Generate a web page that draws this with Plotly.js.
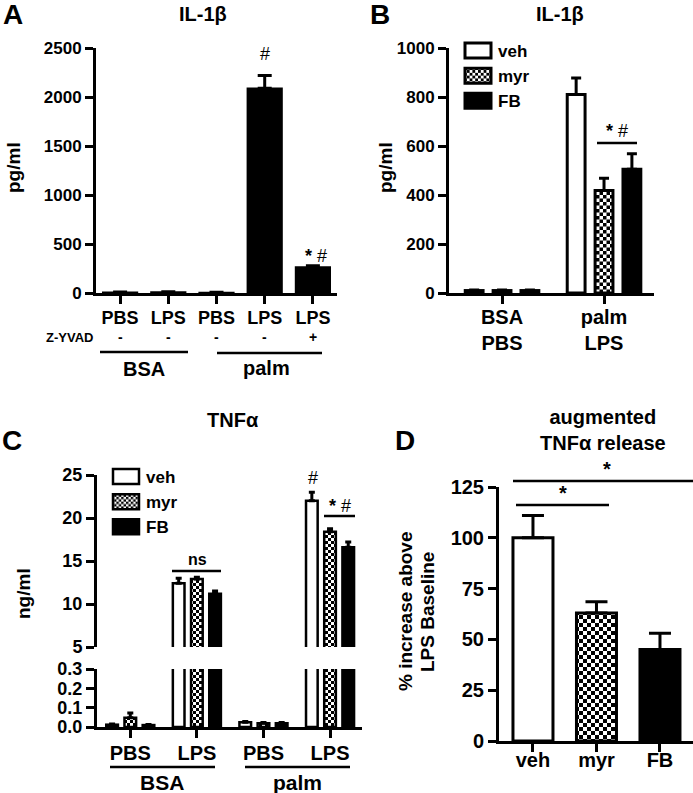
<!DOCTYPE html>
<html><head><meta charset="utf-8">
<script src="https://cdn.plot.ly/plotly-3.0.1.min.js"></script>
<style>html,body{margin:0;padding:0;background:#fff}#chart{width:693px;height:793px}</style>
</head><body><div id="chart"></div>
<script>
// ---------- Panel A : IL-1beta ----------
const aCats = ['PBS', 'LPS', 'PBS', 'LPS', 'LPS'];
const aZyvad = ['-', '-', '-', '-', '+'];
const aVals = [8, 10, 6, 2090, 265];
const aErr = [2, 3, 2, 130, 12];
const aTicks = [0, 500, 1000, 1500, 2000, 2500];

// ---------- Panel B : IL-1beta with inhibitors ----------
const bCats = ['BSA<br>PBS', 'palm<br>LPS'];
const bVeh = [10, 810];
const bVehErr = [2, 68];
const bMyr = [10, 418];
const bMyrErr = [2, 50];
const bFB = [10, 505];
const bFBErr = [2, 63];
const bTicks = [0, 200, 400, 600, 800, 1000];

// ---------- Panel C : TNFalpha (broken axis) ----------
const cCats = ['PBS', 'LPS', 'PBS', 'LPS'];
const cVeh = [0.012, 12.4, 0.025, 22.0];
const cVehErr = [0.003, 0.6, 0.003, 1.0];
const cMyr = [0.048, 12.9, 0.02, 18.4];
const cMyrErr = [0.025, 0.2, 0.003, 0.35];
const cFB = [0.01, 11.2, 0.02, 16.6];
const cFBErr = [0.003, 0.3, 0.003, 0.6];
const cTicksLow = [0, 0.1, 0.2, 0.3];
const cTicksHigh = [5, 10, 15, 20, 25];

// ---------- Panel D : augmented TNFalpha release ----------
const dCats = ['veh', 'myr', 'FB'];
const dVals = [100, 63, 45];
const dErr = [11, 5.5, 8];
const dTicks = [0, 25, 50, 75, 100, 125];

const F = 'Liberation Sans, Arial, sans-serif';
const W = 693, H = 793;
const px = v => v / W;
const py = v => 1 - v / H;
const idx = arr => arr.map((_, i) => i);
const zeros = arr => arr.map(() => 0);
const bold = arr => arr.map(s => '<b>' + s.split('<br>').join('</b><br><b>') + '</b>');

const vehM = {color: '#fff', line: {color: '#000', width: 3}};
const myrM = {color: '#fff', line: {color: '#000', width: 3},
  pattern: {shape: '.', fgcolor: '#000', bgcolor: '#fff', size: 7, solidity: 0.5}};
const fbM = {color: '#000', line: {color: '#000', width: 3}};

function err(a, w) {
  return {type: 'data', symmetric: false, array: a, arrayminus: zeros(a), color: '#000', thickness: 3, width: w, visible: true};
}

const traces = [];
// A
traces.push({type: 'bar', x: idx(aCats), y: aVals, xaxis: 'x', yaxis: 'y', width: 0.72,
  marker: {color: '#000', line: {color: '#000', width: 1.5}}, error_y: err(aErr, 7), showlegend: false, hoverinfo: 'none'});
// B
[[bVeh, bVehErr, vehM, 'veh'], [bMyr, bMyrErr, myrM, 'myr'], [bFB, bFBErr, fbM, 'FB']].forEach(([v, e, m, n]) => {
  traces.push({type: 'bar', name: n, x: idx(bCats), y: v, xaxis: 'x2', yaxis: 'y2', marker: m,
    error_y: err(e, 5), legend: 'legend', showlegend: true, hoverinfo: 'none'});
});
// C upper and lower
[[cVeh, cVehErr, vehM, 'veh'], [cMyr, cMyrErr, myrM, 'myr'], [cFB, cFBErr, fbM, 'FB']].forEach(([v, e, m, n]) => {
  const m2 = JSON.parse(JSON.stringify(m)); m2.line.width = 2.5;
  if (m2.pattern) m2.pattern.size = 6;
  traces.push({type: 'bar', name: n, x: idx(cCats), y: v, xaxis: 'x3', yaxis: 'y4', marker: m2,
    error_y: err(e, 3), legend: 'legend2', showlegend: true, hoverinfo: 'none'});
  traces.push({type: 'bar', name: n, x: idx(cCats), y: v, xaxis: 'x3', yaxis: 'y3', marker: m2,
    error_y: err(e, 3), showlegend: false, hoverinfo: 'none'});
});
// D : one trace per bar, sharing one offset group so they stay centred on their ticks
[vehM, myrM, fbM].forEach((m, i) => {
  const m2 = JSON.parse(JSON.stringify(m));
  if (m2.pattern) m2.pattern.size = 8;
  traces.push({type: 'bar', x: [i], y: [dVals[i]], xaxis: 'x4', yaxis: 'y5', width: 0.63, offsetgroup: 'd',
    marker: m2, error_y: err([dErr[i]], 11), showlegend: false, hoverinfo: 'none'});
});

function yax(domain, range, tickvals, size, extra) {
  const fmt = (extra && extra.dec) ? (v => v.toFixed(extra.dec)) : (v => String(v));
  const e = Object.assign({}, extra || {}); delete e.dec;
  return Object.assign({domain: domain, range: range, tickvals: tickvals, ticktext: bold(tickvals.map(fmt)),
    showline: true, linewidth: 3, linecolor: '#000',
    ticks: 'outside', ticklen: 8, tickwidth: 3, tickcolor: '#000', showgrid: false, zeroline: false,
    tickfont: {family: F, size: size, color: '#000'}, fixedrange: true}, e);
}
function xax(domain, range, cats, size, anchor, extra) {
  return Object.assign({domain: domain, range: range, tickvals: idx(cats), ticktext: bold(cats), anchor: anchor,
    showline: true, linewidth: 3, linecolor: '#000', ticks: 'outside', ticklen: 8, tickwidth: 3, tickcolor: '#000',
    showgrid: false, zeroline: false, tickangle: 0,
    tickfont: {family: F, size: size, color: '#000'}, fixedrange: true}, extra || {});
}

const ann = [];
function T(x, y, text, size, o) {
  ann.push(Object.assign({xref: 'paper', yref: 'paper', x: px(x), y: py(y), text: text, showarrow: false,
    xanchor: 'center', yanchor: 'middle', font: {family: F, size: size, color: '#000', weight: 'bold'}}, o || {}));
}
const shapes = [];
function L(x0, y0, x1, y1) {
  shapes.push({type: 'line', xref: 'paper', yref: 'paper', x0: px(x0), y0: py(y0), x1: px(x1), y1: py(y1),
    line: {color: '#000', width: 2.5}});
}
const reg = {family: F, size: 18, color: '#000', weight: 'normal'};

// Panel letters
T(13, 15, '<b>A</b>', 28); T(380, 15, '<b>B</b>', 28); T(12, 440, '<b>C</b>', 28); T(405, 440, '<b>D</b>', 28);
// Titles
T(203, 14, '<b>IL-1</b>β', 20);
T(560, 14, '<b>IL-1</b>β', 20);
T(233, 420, '<b>TNF</b>α', 20);
T(603, 430, '<b>augmented</b><br><b>TNF</b>α<b> release</b>', 20);
// y titles
T(14, 168, '<b>pg/ml</b>', 19, {textangle: -90});
T(386, 168, '<b>pg/ml</b>', 19, {textangle: -90});
T(23, 594, '<b>ng/ml</b>', 19, {textangle: -90});
T(405, 612, '<b>% increase above</b>', 19, {textangle: -90});
T(427, 612, '<b>LPS Baseline</b>', 19, {textangle: -90});

// Panel A extras
T(95, 337, '<b>Z-YVAD</b>', 13, {xanchor: 'right'});
aZyvad.forEach((s, i) => {
  ann.push({xref: 'x', yref: 'paper', x: i, y: py(337), text: '<b>' + s + '</b>', showarrow: false, xanchor: 'center', yanchor: 'middle',
    font: {family: F, size: 14, color: '#000'}});
});
L(100, 352, 188, 352); L(217, 353, 322, 353);
T(144, 369, '<b>BSA</b>', 20); T(266, 368, '<b>palm</b>', 20);
T(265, 54, '#', 18, {font: reg});
T(316, 256, '<b>*</b> #', 18, {font: reg});

// Panel B extras
L(597, 143, 637, 143);
T(617, 131, '<b>*</b> #', 18, {font: reg});

// Panel C extras
L(172, 571, 221, 571);
T(197, 559, '<b>ns</b>', 16);
T(313, 478, '#', 18, {font: reg});
L(324, 516, 355, 516);
T(340, 506, '<b>*</b> #', 18, {font: reg});
L(110, 767, 215, 767); L(245, 767, 350, 767);
T(162, 782, '<b>BSA</b>', 21); T(297, 782, '<b>palm</b>', 21);

// Panel D extras
L(513, 481, 693, 481);
T(607, 469, '<b>*</b>', 20);
L(516, 505, 609, 505);
T(563, 493, '<b>*</b>', 20);

const legFont = {family: F, size: 17, color: '#000', weight: 'bold'};
const layout = {
  width: W, height: H, margin: {l: 0, r: 0, t: 0, b: 0}, paper_bgcolor: '#fff', plot_bgcolor: 'rgba(0,0,0,0)',
  barmode: 'group', bargap: 0.18, bargroupgap: 0.36, font: {family: F, color: '#000'},
  xaxis: xax([px(96), px(337)], [-0.5, 4.5], aCats, 18, 'y', {ticklabelstandoff: -2}),
  yaxis: yax([py(293), py(48)], [0, 2500], aTicks, 17, {anchor: 'x'}),
  xaxis2: xax([px(449), px(654)], [-0.52, 1.49], bCats, 20, 'y2', {ticklabelstandoff: -4}),
  yaxis2: yax([py(293), py(48)], [0, 1000], bTicks, 17, {anchor: 'x2'}),
  xaxis3: xax([px(97), px(362)], [-0.5, 3.48], cCats, 20, 'y3', {ticklabelstandoff: -2}),
  yaxis3: yax([py(727), py(669)], [0, 0.3], cTicksLow, 18, {anchor: 'x3', dec: 1}),
  yaxis4: yax([py(647), py(475)], [5, 25], cTicksHigh, 18, {anchor: 'x3'}),
  xaxis4: xax([px(499), 1], [-0.535, 2.52], dCats, 20, 'y5', {ticklabelstandoff: -9}),
  yaxis5: yax([py(741), py(487)], [0, 125], dTicks, 20, {anchor: 'x4'}),
  legend: {x: px(458), y: py(33), xanchor: 'left', yanchor: 'top', font: legFont, bgcolor: 'rgba(0,0,0,0)', tracegroupgap: 0},
  legend2: {x: px(106), y: py(459), xanchor: 'left', yanchor: 'top', font: legFont, bgcolor: 'rgba(0,0,0,0)', tracegroupgap: 0},
  annotations: ann, shapes: shapes, showlegend: true
};
Plotly.newPlot('chart', traces, layout, {staticPlot: true, displayModeBar: false}).then(() => {
  try {
    const NS = 'http://www.w3.org/2000/svg';
    // turn the library's dot pattern into the checkerboard used for "myr"
    document.querySelectorAll('#chart pattern').forEach(p => {
      const w = parseFloat(p.getAttribute('width')), h = parseFloat(p.getAttribute('height'));
      if (!(w > 0 && h > 0)) return;
      while (p.firstChild) p.removeChild(p.firstChild);
      const mk = (x, y, ww, hh, c) => {
        const r = document.createElementNS(NS, 'rect');
        r.setAttribute('x', x); r.setAttribute('y', y); r.setAttribute('width', ww); r.setAttribute('height', hh);
        r.setAttribute('fill', c); p.appendChild(r);
      };
      mk(0, 0, w, h, '#fff'); mk(0, 0, w / 2, h / 2, '#000'); mk(w / 2, h / 2, w / 2, h / 2, '#000');
    });
    // wider legend boxes, as in the original figure
    document.querySelectorAll('#chart .legendpoints path').forEach(p => p.setAttribute('d', 'M13,7.5H-13V-7.5H13Z'));
  } catch (e) {}
});
</script></body></html>
